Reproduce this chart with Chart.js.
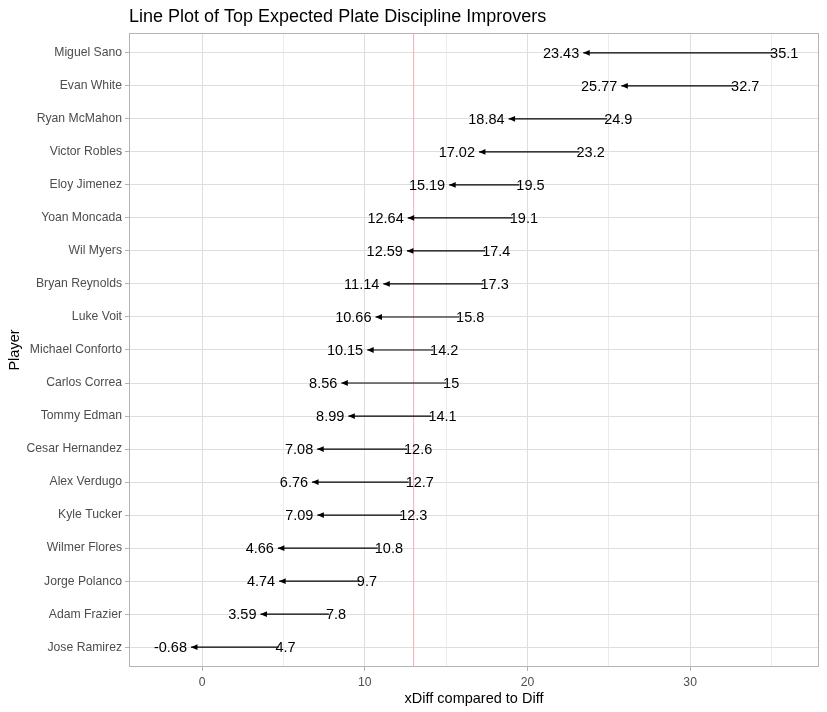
<!DOCTYPE html>
<html><head><meta charset="utf-8">
<script src="https://cdn.jsdelivr.net/npm/chart.js@4/dist/chart.umd.min.js"></script>
<style>html,body{margin:0;padding:0;background:#fff}#wrap{width:827px;height:712px;position:relative}</style>
</head><body><div id="wrap"><canvas id="c"></canvas></div>
<script>
const players = ["Miguel Sano","Evan White","Ryan McMahon","Victor Robles","Eloy Jimenez","Yoan Moncada","Wil Myers","Bryan Reynolds","Luke Voit","Michael Conforto","Carlos Correa","Tommy Edman","Cesar Hernandez","Alex Verdugo","Kyle Tucker","Wilmer Flores","Jorge Polanco","Adam Frazier","Jose Ramirez"];
const xDiff = [35.1,32.7,24.9,23.2,19.5,19.1,17.4,17.3,15.8,14.2,15,14.1,12.6,12.7,12.3,10.8,9.7,7.8,4.7];
const diff = [23.43,25.77,18.84,17.02,15.19,12.64,12.59,11.14,10.66,10.15,8.56,8.99,7.08,6.76,7.09,4.66,4.74,3.59,-0.68];
const xMajorTicks = [0,10,20,30];
const xMinorTicks = [5,15,25,35];
const refLine = [13];
const xRange = [-4.49, 37.92];
const yRange = [-0.6, 18.6];

const FONT = "'Liberation Sans', Arial, sans-serif";
Chart.defaults.font.family = FONT;

const datasets = [];
players.forEach((p, i) => {
  datasets.push({
    label: p,
    data: [{x: xDiff[i], y: i}, {x: diff[i], y: i}],
    borderColor: '#000', borderWidth: 1.2, pointRadius: 0, order: 0
  });
});
datasets.push({
  label: 'ref',
  data: [{x: refLine[0], y: yRange[0]}, {x: refLine[0], y: yRange[1]}],
  borderColor: '#f9b3bf', borderWidth: 1, pointRadius: 0, order: 5
});

const decor = {
  id: 'decor',
  afterDatasetsDraw(chart) {
    const ctx = chart.ctx, xs = chart.scales.x, ys = chart.scales.y;
    ctx.save();
    ctx.font = "14.5px " + FONT;
    ctx.fillStyle = '#000';
    ctx.textBaseline = 'middle';
    players.forEach((p, i) => {
      const px1 = xs.getPixelForValue(xDiff[i]);
      const px2 = xs.getPixelForValue(diff[i]);
      const py = ys.getPixelForValue(i);
      ctx.beginPath();
      ctx.moveTo(px2, py);
      ctx.lineTo(px2 + 6.5, py - 2.9);
      ctx.lineTo(px2 + 6.5, py + 2.9);
      ctx.closePath();
      ctx.fill();
      ctx.textAlign = 'right';
      ctx.fillText(String(diff[i]), px2 - 4, py + 1);
      ctx.textAlign = 'left';
      ctx.fillText(String(xDiff[i]), px1 - 3, py + 1);
    });
    const a = chart.chartArea;
    ctx.strokeStyle = '#b3b3b3';
    ctx.lineWidth = 1;
    ctx.strokeRect(Math.round(a.left) + 0.5, Math.round(a.top) + 0.5, Math.round(a.right - a.left) - 1, Math.round(a.bottom - a.top) - 1);
    ctx.restore();
  },
  afterDraw(chart) {
    const ctx = chart.ctx;
    ctx.save();
    ctx.font = "18px " + FONT;
    ctx.fillStyle = '#000';
    ctx.textAlign = 'left';
    ctx.textBaseline = 'alphabetic';
    ctx.fillText('Line Plot of Top Expected Plate Discipline Improvers', chart.chartArea.left, 22);
    ctx.restore();
  }
};

new Chart(document.getElementById('c'), {
  type: 'line',
  data: { datasets },
  plugins: [decor],
  options: {
    responsive: true, maintainAspectRatio: false, animation: false,
    layout: { padding: { left: 0, top: 33, right: 8, bottom: 0 } },
    plugins: { legend: { display: false }, tooltip: { enabled: false }, title: { display: false } },
    elements: { line: { tension: 0 } },
    scales: {
      x: {
        type: 'linear', min: xRange[0], max: xRange[1],
        afterBuildTicks: s => { s.ticks = [...xMajorTicks, ...xMinorTicks].sort((a, b) => a - b).map(v => ({value: v})); },
        afterFit: s => { s.height = 45; },
        border: { display: false },
        grid: {
          color: c => xMajorTicks.includes(c.tick && c.tick.value) ? '#dedede' : '#ebebeb',
          tickColor: c => xMajorTicks.includes(c.tick && c.tick.value) ? '#b3b3b3' : 'rgba(0,0,0,0)',
          tickLength: 4, lineWidth: 1
        },
        ticks: {
          autoSkip: false, maxRotation: 0, padding: 4, color: '#4d4d4d',
          font: { size: 12.2 },
          callback: v => xMajorTicks.includes(v) ? String(v) : ''
        },
        title: { display: true, text: 'xDiff compared to Diff', color: '#000', font: { size: 14.5 }, padding: { top: 0, bottom: 4 } }
      },
      y: {
        type: 'linear', reverse: true, min: yRange[0], max: yRange[1],
        afterBuildTicks: s => { s.ticks = players.map((_, i) => ({value: i})); },
        afterFit: s => { s.width = 129; },
        border: { display: false },
        grid: { color: '#dedede', tickColor: '#b3b3b3', tickLength: 4, lineWidth: 1 },
        ticks: {
          autoSkip: false, padding: 3, color: '#4d4d4d', font: { size: 12.2 },
          callback: v => players[v]
        },
        title: { display: true, text: 'Player', color: '#000', font: { size: 14.5 }, padding: { top: 6, bottom: 0 } }
      }
    }
  }
});
</script>
</body></html>
